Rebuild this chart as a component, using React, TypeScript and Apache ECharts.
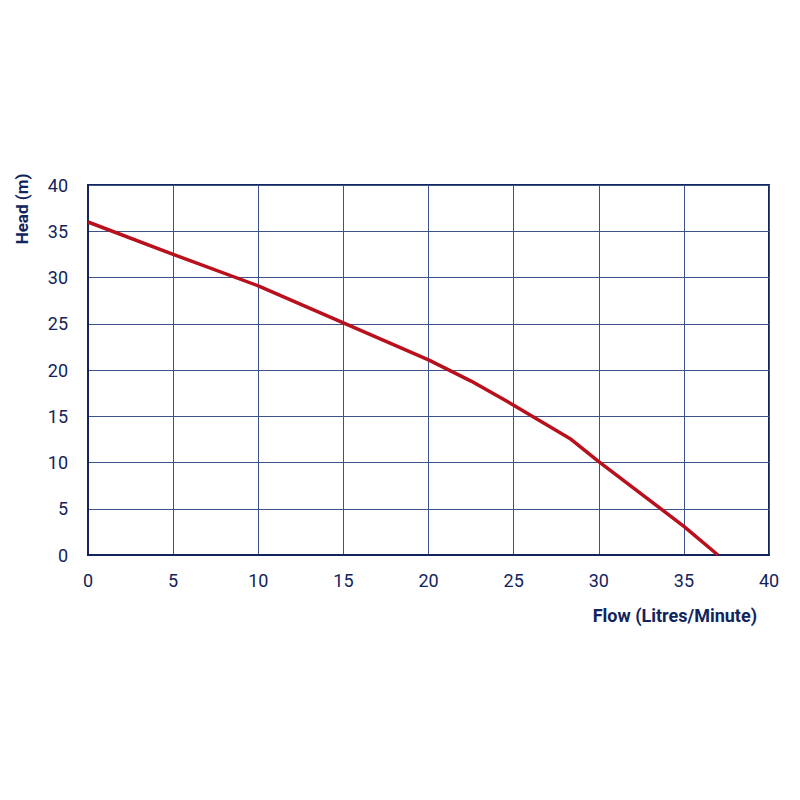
import { useEffect, useRef } from 'react';
import * as echarts from 'echarts';

const flow = [0, 5, 10, 15, 20, 22.5, 25, 28.3, 30, 35, 37];
const head = [36, 32.5, 29.1, 25.1, 21.1, 18.8, 16.2, 12.6, 10.1, 3.1, 0];

const xTicks = [0, 5, 10, 15, 20, 25, 30, 35, 40];
const yTicks = [0, 5, 10, 15, 20, 25, 30, 35, 40];

const navy = '#12245c';
const gridBlue = '#3d5189';
const red = '#b8101c';
const font = "Roboto, 'Noto Sans', sans-serif";
const titleFont = "'Liberation Sans Narrow', Roboto, sans-serif";

export default function App() {
  const ref = useRef<HTMLDivElement>(null);

  useEffect(() => {
    if (!ref.current) return;
    const chart = echarts.init(ref.current, undefined, { renderer: 'svg' });
    chart.setOption({
      animation: false,
      backgroundColor: '#ffffff',
      textStyle: { fontFamily: font },
      grid: {
        left: 88,
        right: 31,
        top: 185,
        bottom: 245,
        show: true,
        borderColor: navy,
        borderWidth: 2,
      },
      xAxis: {
        type: 'value',
        min: xTicks[0],
        max: xTicks[xTicks.length - 1],
        interval: 5,
        axisLine: { show: true, lineStyle: { color: navy, width: 2 } },
        axisTick: { show: false },
        axisLabel: { color: navy, fontSize: 18, margin: 16, fontFamily: font },
        splitLine: { show: true, lineStyle: { color: gridBlue, width: 1 } },
      },
      yAxis: {
        type: 'value',
        min: yTicks[0],
        max: yTicks[yTicks.length - 1],
        interval: 5,
        axisLine: { show: true, lineStyle: { color: navy, width: 2 } },
        axisTick: { show: false },
        axisLabel: { color: navy, fontSize: 18, margin: 20, fontFamily: font },
        splitLine: { show: true, lineStyle: { color: gridBlue, width: 1 } },
      },
      graphic: [
        {
          type: 'text',
          x: 22,
          y: 209,
          rotation: Math.PI / 2,
          style: {
            text: 'Head (m)',
            fill: navy,
            font: `bold 17px ${titleFont}`,
            align: 'center',
            verticalAlign: 'middle',
          },
        },
        {
          type: 'text',
          x: 757,
          y: 615,
          style: {
            text: 'Flow (Litres/Minute)',
            fill: navy,
            font: `bold 18px ${titleFont}`,
            align: 'right',
            verticalAlign: 'middle',
          },
        },
      ],
      series: [
        {
          type: 'line',
          data: flow.map((f, i) => [f, head[i]]),
          symbol: 'none',
          smooth: false,
          lineStyle: { color: red, width: 3.5 },
        },
      ],
    });
    return () => chart.dispose();
  }, []);

  return (
    <div
      ref={ref}
      style={{ position: 'fixed', left: 0, top: 0, width: 800, height: 800 }}
    />
  );
}
